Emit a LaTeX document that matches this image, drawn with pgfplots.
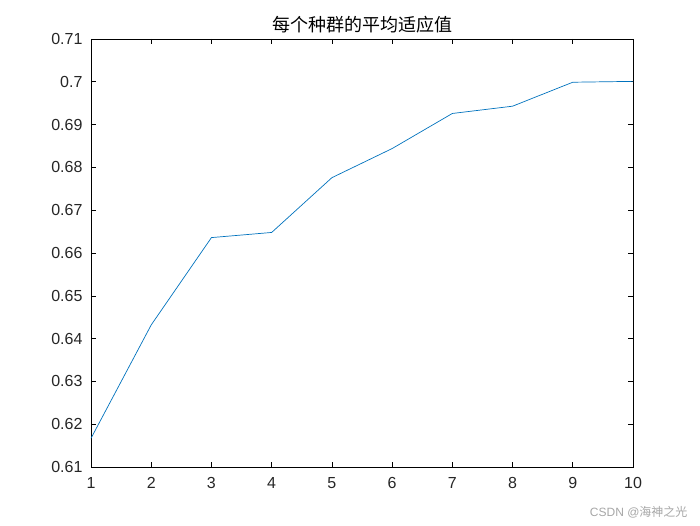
\documentclass[border=0pt]{standalone}
\usepackage{pgfplots}
\pgfplotsset{compat=1.18}
\usepackage{fontspec}
\setmainfont{Liberation Sans}
\newfontfamily\cjk{Noto Sans CJK SC}
\definecolor{mblue}{rgb}{0,0.447,0.741}
\begin{document}
\begin{tikzpicture}
\useasboundingbox (0pt,0pt) rectangle (700pt,525pt);
\begin{axis}[
  at={(91pt,58pt)}, anchor=south west,
  width=542pt, height=428pt, scale only axis,
  xmin=1, xmax=10, ymin=0.61, ymax=0.71,
  xtick={1,...,10},
  ytick={0.61,0.62,...,0.71},
  yticklabels={0.61,0.62,0.63,0.64,0.65,0.66,0.67,0.68,0.69,0.7,0.71},
  tick align=inside,
  tick pos=both,
  major tick length=5pt,
  xticklabel pos=bottom, yticklabel pos=left,
  axis line style={black, line width=0.6pt},
  every tick/.style={black, line width=0.6pt},
  /pgf/number format/assume math mode=true,
  ticklabel style={font=\fontsize{16}{18}\selectfont, text=black!85},
  yticklabel style={xshift=-5pt},
  xticklabel style={yshift=-7pt},
  title={\cjk\fontsize{18}{20}\selectfont 每个种群的平均适应值},
  title style={yshift=-4pt},
  clip=false,
]
\addplot[mblue, line width=0.7pt] coordinates {
(1,0.6167) (2,0.6432) (3,0.6636) (4,0.6648) (5,0.6776) (6,0.6844) (7,0.6926) (8,0.6943) (9,0.6999) (10,0.7001)
};
\end{axis}
\node[anchor=east, text=black!35, font=\fontsize{12}{14}\selectfont] at (691pt,13pt) {CSDN @{\cjk 海神之光}};
\end{tikzpicture}
\end{document}
